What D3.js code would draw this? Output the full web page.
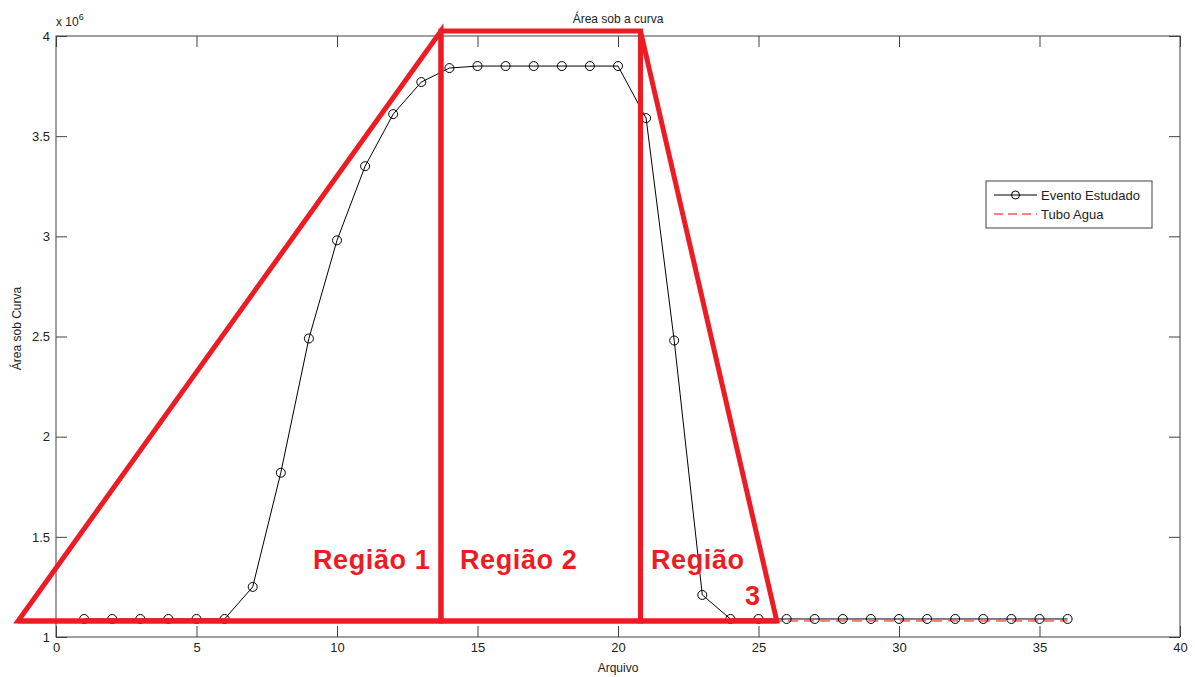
<!DOCTYPE html>
<html>
<head>
<meta charset="utf-8">
<script src="https://cdn.jsdelivr.net/npm/d3@7"></script>
<style>
  body { margin: 0; background: #fff; }
  text { font-family: "Liberation Sans", Arial, sans-serif; }
</style>
</head>
<body>
<script>
// chart values (area in units of 10^6)
var arquivo = d3.range(1, 37);
var eventoEstudado = [1.09, 1.09, 1.09, 1.09, 1.09, 1.09, 1.25, 1.82, 2.49, 2.98,
                      3.35, 3.61, 3.77, 3.84, 3.85, 3.85, 3.85, 3.85, 3.85, 3.85,
                      3.59, 2.48, 1.21, 1.09, 1.09, 1.09, 1.09, 1.09, 1.09, 1.09,
                      1.09, 1.09, 1.09, 1.09, 1.09, 1.09];
var tuboAgua = arquivo.map(function() { return 1.08; });
var xTicks = [0, 5, 10, 15, 20, 25, 30, 35, 40];
var yTicks = [1, 1.5, 2, 2.5, 3, 3.5, 4];

// hand drawn regions, in data units
var regiao1 = [[-1.35, 1.08], [13.7, 4.025], [13.7, 1.08]];
var regiao2 = [[13.7, 1.08], [13.7, 4.025], [20.8, 4.025], [20.8, 1.08]];
var regiao3 = [[20.8, 4.025], [25.65, 1.08], [20.8, 1.08]];
var baseLine = [[-1.35, 1.08], [25.65, 1.08]];

var width = 1195, height = 677;
var margin = {left: 56, right: 15, top: 36, bottom: 40};

var svg = d3.select('body').append('svg')
    .attr('width', width)
    .attr('height', height);

var x = d3.scaleLinear().domain([0, 40]).range([margin.left, width - margin.right]);
var y = d3.scaleLinear().domain([1, 4]).range([height - margin.bottom, margin.top]);

var axisColor = '#404040';
var tickLen = 11;

// box
svg.append('rect')
    .attr('x', x(0)).attr('y', y(4))
    .attr('width', x(40) - x(0)).attr('height', y(1) - y(4))
    .attr('fill', 'none').attr('stroke', axisColor).attr('stroke-width', 1);

// axes, MATLAB style ticks pointing inward
var fmt = function(d) { return String(d); };
var xAxisB = d3.axisBottom(x).tickValues(xTicks).tickFormat(fmt).tickSizeInner(-tickLen).tickSizeOuter(0).tickPadding(6);
var xAxisT = d3.axisTop(x).tickValues(xTicks).tickSizeInner(-tickLen).tickSizeOuter(0).tickFormat('');
var yAxisL = d3.axisLeft(y).tickValues(yTicks).tickFormat(fmt).tickSizeInner(-tickLen).tickSizeOuter(0).tickPadding(6);
var yAxisR = d3.axisRight(y).tickValues(yTicks).tickSizeInner(-tickLen).tickSizeOuter(0).tickFormat('');

function styleAxis(g) {
  g.select('.domain').remove();
  g.selectAll('line').attr('stroke', axisColor);
  g.selectAll('text').attr('fill', '#222').style('font-size', '13px')
      .style('font-family', '"Liberation Sans", Arial, sans-serif');
}

svg.append('g').attr('transform', 'translate(0,' + y(1) + ')').call(xAxisB).call(styleAxis);
svg.append('g').attr('transform', 'translate(0,' + y(4) + ')').call(xAxisT).call(styleAxis);
svg.append('g').attr('transform', 'translate(' + x(0) + ',0)').call(yAxisL).call(styleAxis);
svg.append('g').attr('transform', 'translate(' + x(40) + ',0)').call(yAxisR).call(styleAxis);

// exponent label
var expo = svg.append('text')
    .attr('x', x(0)).attr('y', y(4) - 10)
    .attr('fill', '#222').style('font-size', '12px');
expo.append('tspan').text('x 10');
expo.append('tspan').attr('dy', -6).style('font-size', '9px').text('6');

// titles
svg.append('text')
    .attr('x', (x(0) + x(40)) / 2).attr('y', 23)
    .attr('text-anchor', 'middle').attr('fill', '#222')
    .style('font-size', '12px').text('Área sob a curva');

svg.append('text')
    .attr('x', (x(0) + x(40)) / 2).attr('y', 672)
    .attr('text-anchor', 'middle').attr('fill', '#222')
    .style('font-size', '12px').text('Arquivo');

svg.append('text')
    .attr('transform', 'translate(21,' + ((y(1) + y(4)) / 2 - 8) + ') rotate(-90)')
    .attr('text-anchor', 'middle').attr('fill', '#222')
    .style('font-size', '12px').text('Área sob Curva');

var line = d3.line()
    .x(function(d) { return x(d[0]); })
    .y(function(d) { return y(d[1]); });

// tubo agua, dashed red
svg.append('path')
    .datum(arquivo.map(function(a, i) { return [a, tuboAgua[i]]; }))
    .attr('d', line)
    .attr('fill', 'none').attr('stroke', '#ff0000')
    .attr('stroke-width', 1).attr('stroke-dasharray', '10,6');

// evento estudado
var evento = arquivo.map(function(a, i) { return [a, eventoEstudado[i]]; });
svg.append('path')
    .datum(evento)
    .attr('d', line)
    .attr('fill', 'none').attr('stroke', '#000').attr('stroke-width', 1);

svg.selectAll('circle.pt')
    .data(evento)
  .enter().append('circle')
    .attr('class', 'pt')
    .attr('cx', function(d) { return x(d[0]); })
    .attr('cy', function(d) { return y(d[1]); })
    .attr('r', 4.5)
    .attr('fill', 'none').attr('stroke', '#000').attr('stroke-width', 1);

// red annotations
var red = '#ed1c24';
[regiao1, regiao2, regiao3].forEach(function(poly) {
  svg.append('path')
      .attr('d', line(poly) + 'Z')
      .attr('fill', 'none').attr('stroke', red)
      .attr('stroke-width', 5).attr('stroke-linejoin', 'miter');
});
svg.append('path')
    .attr('d', line(baseLine))
    .attr('fill', 'none').attr('stroke', red).attr('stroke-width', 5);

function redLabel(px, py, txt) {
  svg.append('text')
      .attr('x', px).attr('y', py)
      .attr('fill', red)
      .style('font-size', '27px').style('font-weight', 'bold')
      .style('letter-spacing', '0.6px')
      .style('font-family', '"Liberation Sans", Arial, sans-serif')
      .text(txt);
}
redLabel(313, 569, 'Região 1');
redLabel(460, 569, 'Região 2');
redLabel(651, 569, 'Região');
redLabel(745, 605, '3');

// legend
var lg = svg.append('g').attr('transform', 'translate(986,181)');
lg.append('rect')
    .attr('width', 166).attr('height', 47)
    .attr('fill', '#fff').attr('stroke', axisColor);
lg.append('line').attr('x1', 8).attr('x2', 51).attr('y1', 14).attr('y2', 14)
    .attr('stroke', '#000');
lg.append('circle').attr('cx', 29.5).attr('cy', 14).attr('r', 4)
    .attr('fill', 'none').attr('stroke', '#000');
lg.append('line').attr('x1', 8).attr('x2', 51).attr('y1', 33).attr('y2', 33)
    .attr('stroke', '#ff0000').attr('stroke-dasharray', '9,5');
lg.append('text').attr('x', 55).attr('y', 18.5).attr('fill', '#222')
    .style('font-size', '13px').text('Evento Estudado');
lg.append('text').attr('x', 55).attr('y', 37.5).attr('fill', '#222')
    .style('font-size', '13px').text('Tubo Agua');
</script>
</body>
</html>
